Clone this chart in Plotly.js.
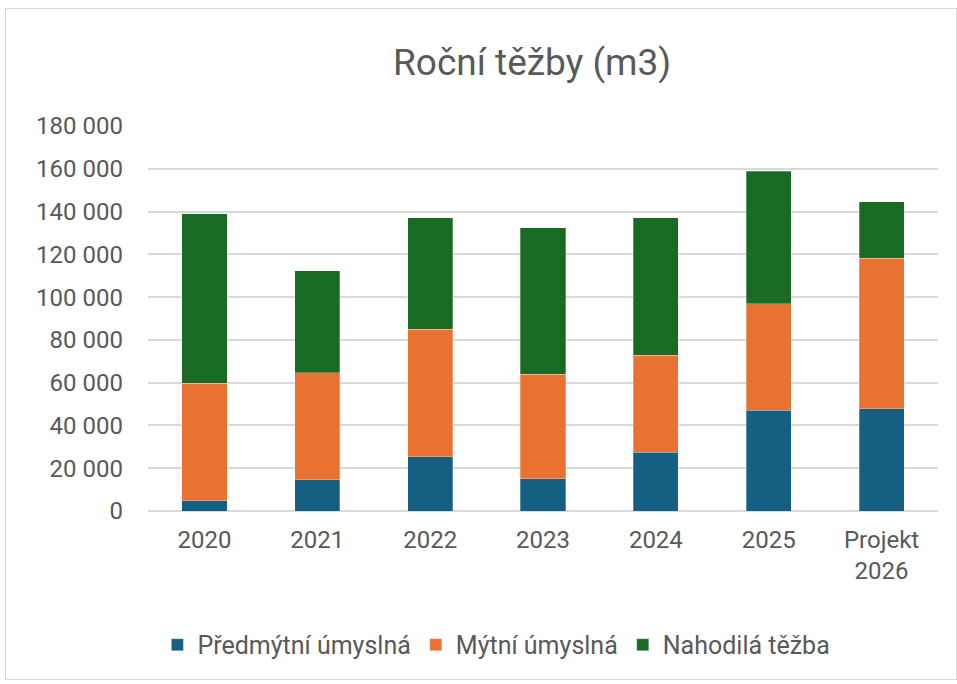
<!DOCTYPE html>
<html>
<head>
<meta charset="utf-8">
<script src="https://cdn.plot.ly/plotly-3.0.1.min.js"></script>
<style>
html,body{margin:0;padding:0;background:#fff;}
#frame{position:absolute;left:5px;top:8px;width:952px;height:672px;border:1px solid #d9d9d9;box-sizing:border-box;}
#chart{position:absolute;left:0;top:0;width:957px;height:684px;}
</style>
</head>
<body>
<div id="frame"></div>
<div id="chart"></div>
<script>
const categories = ["2020", "2021", "2022", "2023", "2024", "2025", "Projekt<br>2026"];
const predmytni = [4800, 14500, 25300, 15100, 27400, 47100, 47900];
const mytni = [54900, 50200, 59600, 48800, 45500, 49800, 70200];
const nahodila = [79300, 47600, 52200, 68600, 64200, 62000, 26600];
const seriesNames = ["Předmýtní úmyslná", "Mýtní úmyslná", "Nahodilá těžba"];
const colors = ["#156082", "#E97132", "#196B24"];
const yTicks = [0, 20000, 40000, 60000, 80000, 100000, 120000, 140000, 160000, 180000];

const font = "Roboto, Open Sans, sans-serif";
const traces = [predmytni, mytni, nahodila].map((vals, i) => ({
  type: "bar",
  x: categories,
  y: vals,
  name: seriesNames[i],
  marker: {color: colors[i], line: {color: "rgba(255,255,255,0.4)", width: 0.7}},
  hoverinfo: "x+y+name"
}));

const layout = {
  width: 957, height: 684,
  paper_bgcolor: "rgba(0,0,0,0)",
  plot_bgcolor: "rgba(0,0,0,0)",
  barmode: "stack",
  bargap: 0.6,
  separators: ", ",
  margin: {l: 148, r: 19, t: 126, b: 173},
  font: {family: font, color: "#595959", size: 24},
  title: {text: "Roční těžby (m3)", font: {family: font, size: 37, color: "#595959"},
          x: 0.556, xref: "container", xanchor: "center", y: 0.91, yref: "container", yanchor: "middle"},
  xaxis: {
    type: "category",
    tickfont: {size: 24, color: "#595959"},
    showline: false, showgrid: false, ticks: "",
    ticklabelstandoff: 12
  },
  yaxis: {
    range: [0, 180000],
    tickvals: yTicks,
    tickformat: ",d",
    tickfont: {size: 24, color: "#595959"},
    showgrid: true, gridcolor: "#d9d9d9", gridwidth: 1.5,
    zeroline: true, zerolinecolor: "#d9d9d9", zerolinewidth: 1.5,
    showline: false, ticks: "",
    ticklabelstandoff: 24
  },
  legend: {
    orientation: "h",
    x: 0.441, xanchor: "center",
    y: -0.348, yanchor: "middle",
    font: {size: 25, color: "#595959"},
    itemwidth: 30,
    traceorder: "normal",
    itemclick: false
  },
  showlegend: true
};

Plotly.newPlot("chart", traces, layout, {displayModeBar: false});
</script>
</body>
</html>
